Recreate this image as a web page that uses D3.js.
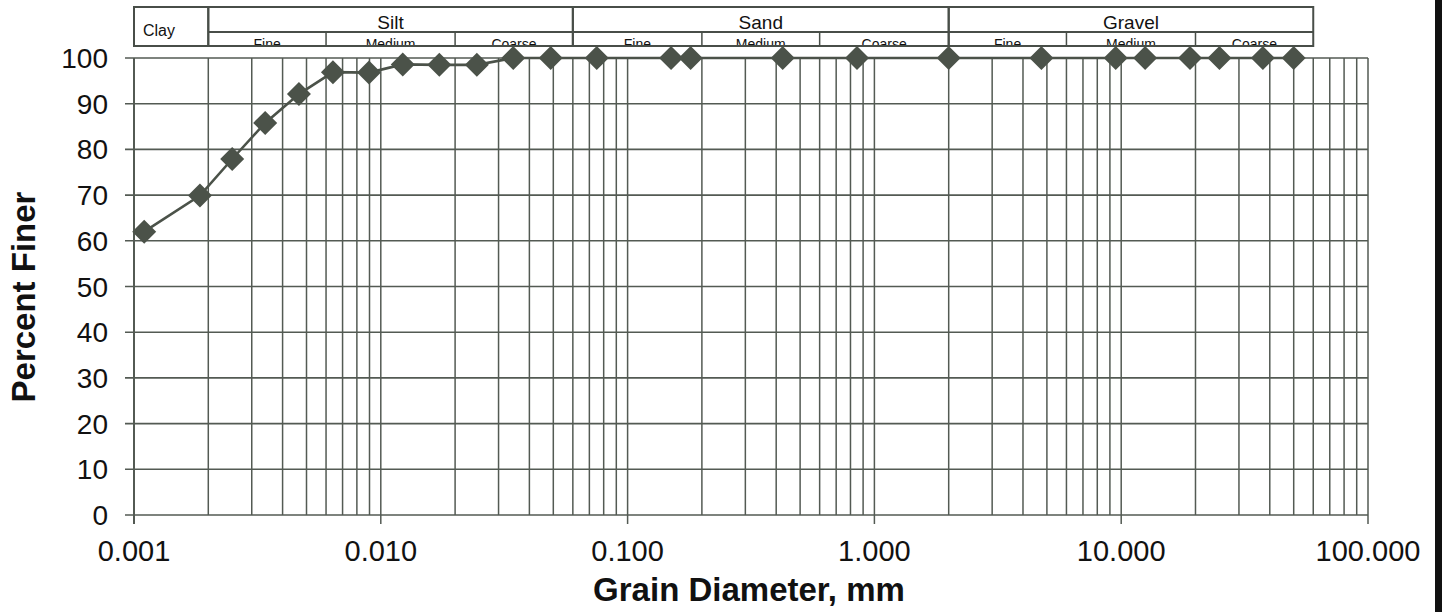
<!DOCTYPE html>
<html>
<head>
<meta charset="utf-8">
<script src="https://cdn.jsdelivr.net/npm/d3@7"></script>
<style>
  html, body { margin: 0; padding: 0; background: #fff; }
  svg { display: block; }
  text { font-family: "Liberation Sans", Arial, sans-serif; fill: #111; }
</style>
</head>
<body>
<svg id="chart" width="1442" height="612"></svg>
<script>
// ---- Data ----
const diameters = [0.00110, 0.00185, 0.00250, 0.00340, 0.00466, 0.00640, 0.00896, 0.01227, 0.01726, 0.02450, 0.03440, 0.04880,
                   0.075, 0.150, 0.180, 0.425, 0.850, 2.00, 4.75, 9.5, 12.5, 19.0, 25.0, 37.5, 50.0];
const percentFiner = [62.0, 69.9, 77.9, 85.8, 92.1, 96.9, 96.8, 98.6, 98.5, 98.5, 100, 100,
                      100, 100, 100, 100, 100, 100, 100, 100, 100, 100, 100, 100, 100];
const yTickValues = [0, 10, 20, 30, 40, 50, 60, 70, 80, 90, 100];
const xTickLabels = [0.001, 0.01, 0.1, 1, 10, 100];

const classNames = ["Clay", "Silt", "Sand", "Gravel"];
const classBounds = [[0.001, 0.002], [0.002, 0.06], [0.06, 2], [2, 60]];
const subNames = ["Fine", "Medium", "Coarse"];
const subBounds = [
  [0.002, 0.006, 0.02, 0.06],
  [0.06, 0.2, 0.6, 2],
  [2, 6, 20, 60]
];

const xTitle = "Grain Diameter, mm";
const yTitle = "Percent Finer";

(function () {
// ---- Layout ----
const svg = d3.select("#chart");
const pL = 134, pR = 1368, pT = 58, pB = 515;
const lineCol = "#535a53";
const markCol = "#4b5249";

const x = d3.scaleLog().domain([0.001, 100]).range([pL, pR]);
const y = d3.scaleLinear().domain([0, 100]).range([pB, pT]);

// vertical log grid
const gridX = x.ticks();
svg.append("g").selectAll("line").data(gridX).join("line")
  .attr("x1", d => x(d)).attr("x2", d => x(d))
  .attr("y1", pT).attr("y2", pB)
  .attr("stroke", lineCol).attr("stroke-width", 1.5);

// horizontal grid
svg.append("g").selectAll("line").data(yTickValues).join("line")
  .attr("x1", pL - 9).attr("x2", pR)
  .attr("y1", d => y(d)).attr("y2", d => y(d))
  .attr("stroke", lineCol).attr("stroke-width", 1.6);

// left axis line
svg.append("line").attr("x1", pL).attr("x2", pL).attr("y1", pT).attr("y2", pB + 9)
  .attr("stroke", lineCol).attr("stroke-width", 2);

// x ticks and labels
const fmt = d3.format(".3f");
svg.append("g").selectAll("line").data(xTickLabels).join("line")
  .attr("x1", d => x(d)).attr("x2", d => x(d))
  .attr("y1", pB).attr("y2", pB + 9)
  .attr("stroke", lineCol).attr("stroke-width", 1.5);
svg.append("g").selectAll("text").data(xTickLabels).join("text")
  .attr("x", d => x(d)).attr("y", 561)
  .attr("text-anchor", "middle")
  .attr("font-size", 29)
  .text(d => fmt(d));

// y labels
svg.append("g").selectAll("text").data(yTickValues).join("text")
  .attr("x", 108).attr("y", d => y(d) + 10)
  .attr("text-anchor", "end")
  .attr("font-size", 28)
  .text(d => d);

// titles
svg.append("text").attr("x", 749).attr("y", 601)
  .attr("text-anchor", "middle").attr("font-size", 33).attr("font-weight", "bold")
  .text(xTitle);
svg.append("text")
  .attr("transform", "translate(35,297) rotate(-90)")
  .attr("text-anchor", "middle").attr("font-size", 33).attr("font-weight", "bold")
  .text(yTitle);

// ---- Header band ----
const hTop = 7, hMid = 32, hBot = 46;
const hdr = svg.append("g");

// sub labels first so the lines sit over the glyph bottoms
subBounds.forEach(b => {
  subNames.forEach((n, j) => {
    hdr.append("text")
      .attr("x", (x(b[j]) + x(b[j + 1])) / 2).attr("y", 48.5)
      .attr("text-anchor", "middle").attr("font-size", 14)
      .attr("fill", "#333")
      .text(n);
  });
});
hdr.append("rect").attr("x", pL - 2).attr("y", 47).attr("width", pR - pL).attr("height", 4).attr("fill", "#fff");

hdr.selectAll("rect.cls").data(classBounds).join("rect")
  .attr("class", "cls")
  .attr("x", d => x(d[0])).attr("y", hTop)
  .attr("width", d => x(d[1]) - x(d[0])).attr("height", hBot - hTop)
  .attr("fill", "none").attr("stroke", "#484e48").attr("stroke-width", 2);

subBounds.forEach(b => {
  hdr.append("line")
    .attr("x1", x(b[0])).attr("x2", x(b[3]))
    .attr("y1", hMid).attr("y2", hMid)
    .attr("stroke", "#484e48").attr("stroke-width", 2);
  b.slice(1, 3).forEach(v => {
    hdr.append("line")
      .attr("x1", x(v)).attr("x2", x(v))
      .attr("y1", hMid).attr("y2", hBot)
      .attr("stroke", "#484e48").attr("stroke-width", 1.5);
  });
});

// class names
classNames.forEach((n, i) => {
  const b = classBounds[i];
  if (i === 0) {
    hdr.append("text").attr("x", x(b[0]) + 9).attr("y", 36)
      .attr("font-size", 16).text(n);
  } else {
    hdr.append("text").attr("x", (x(b[0]) + x(b[1])) / 2).attr("y", 29)
      .attr("text-anchor", "middle").attr("font-size", 19).text(n);
  }
});

// ---- Data line and markers ----
const pts = diameters.map((d, i) => [d, percentFiner[i]]);
svg.append("path").datum(pts)
  .attr("d", d3.line().x(d => x(d[0])).y(d => y(d[1])))
  .attr("fill", "none").attr("stroke", markCol).attr("stroke-width", 2.6);

const s = 12;
svg.append("g").selectAll("path").data(pts).join("path")
  .attr("transform", d => `translate(${x(d[0])},${y(d[1])})`)
  .attr("d", `M0,${-s}L${s},0L0,${s}L${-s},0Z`)
  .attr("fill", markCol);

// right edge black bar
svg.append("rect").attr("x", 1435).attr("y", 0).attr("width", 7).attr("height", 612).attr("fill", "#111");
})();
</script>
</body>
</html>
